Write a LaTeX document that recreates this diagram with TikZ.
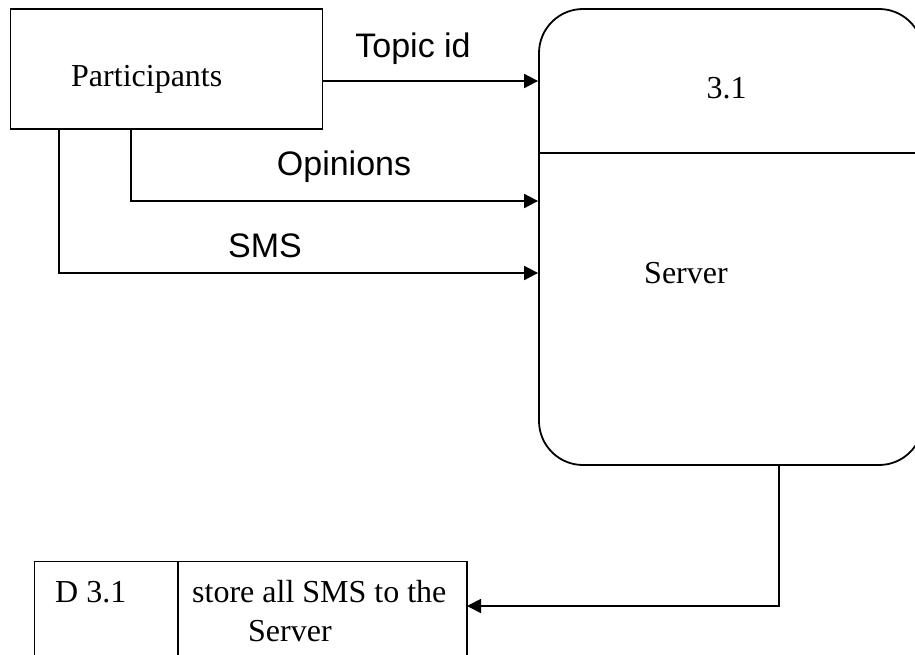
\documentclass[tikz,border=0pt]{standalone}
\usepackage{fontspec}
\setmainfont{Liberation Serif}
\setsansfont{Liberation Sans}
\usetikzlibrary{arrows.meta,calc}

\tikzset{
  outline/.style={draw=black, line width=1.8pt},
  flow/.style={draw=black, line width=1.8pt, -{Triangle[length=14pt,width=14pt]}},
  serif/.style={font=\fontsize{32}{39}\selectfont\rmfamily, inner sep=0pt},
  sans/.style={font=\fontsize{34}{40}\selectfont\sffamily, inner sep=0pt},
}

\begin{document}
\begin{tikzpicture}[x=1pt, y=-1pt]
  \useasboundingbox (0,0) rectangle (915,655);
  \clip (0,0) rectangle (915,655);

  % external entity
  \node[outline, rectangle, minimum width=312pt, minimum height=120pt, inner sep=0pt]
    (part) at (166.5,69) {};
  \node[serif, anchor=base west] (partlbl) at (71,87) {Participants};

  % process 3.1
  \node[outline, rectangle, rounded corners=44pt, minimum width=384pt,
        minimum height=456pt, inner sep=0pt] (srv) at (731,237) {};
  \coordinate (divy) at (0,153);
  \draw[outline] (srv.west |- divy) -- (srv.east |- divy);
  \node[serif, anchor=base] (pid) at (726.5,99) {3.1};
  \node[serif, anchor=base west] (pname) at (644,283) {Server};

  % data store D 3.1
  \coordinate (st-nw) at (34.5,561.5);
  \coordinate (st-se) at (467,690);
  \coordinate (st-div) at (178,561.5);
  \draw[outline] (st-nw) rectangle (st-se);
  \draw[outline] (st-div) -- (st-div |- st-se);
  \coordinate (store) at (467,606);
  \node[serif, anchor=base west] (sid) at (55,602) {D 3.1};
  \node[serif, anchor=base west] (sname1) at (192,602) {store all SMS to the};
  \node[serif, anchor=base west] (sname2) at (248,641) {Server};

  % flows from participants to the server
  \coordinate (y1) at (0,81);
  \coordinate (y2) at (0,201);
  \coordinate (y3) at (0,273);
  \coordinate (xo) at (131,0);
  \coordinate (xs) at (59,0);
  \draw[flow] (part.east |- y1) -- (srv.west |- y1);
  \draw[flow] (part.south -| xo) -- (xo |- y2) -- (srv.west |- y2);
  \draw[flow] (part.south -| xs) -- (xs |- y3) -- (srv.west |- y3);

  \node[sans, anchor=base] (ltopic) at (413,58) {Topic id};
  \node[sans, anchor=base] (lop) at (344,176) {Opinions};
  \node[sans, anchor=base] (lsms) at (265,257) {SMS};

  % flow from the server to the data store
  \coordinate (xd) at (779,0);
  \draw[flow] (srv.south -| xd) -- (xd |- store) -- (store);
\end{tikzpicture}
\end{document}
